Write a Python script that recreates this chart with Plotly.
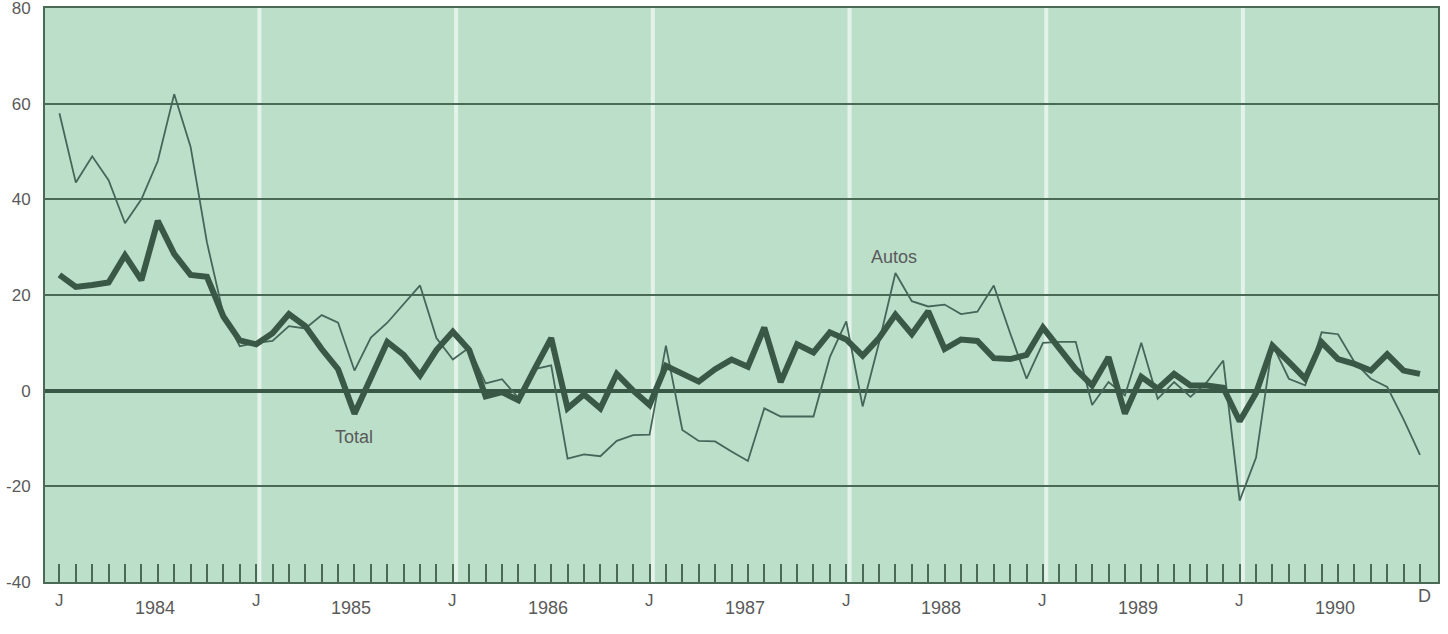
import numpy as np
import pandas as pd
import plotly.graph_objects as go

# Monthly percent change, Jan 1984 - Dec 1990
months = pd.period_range("1984-01", "1990-12", freq="M")

autos = [
    58, 43.5, 49, 44, 35, 40, 48, 62, 51, 31, 16, 9.3,          # 1984
    10, 10.4, 13.5, 13, 15.8, 14.2, 4.2, 11.1, 14.2, 18, 22, 11,  # 1985
    6.5, 9, 1.5, 2.4, -1.5, 4.5, 5.3, -14.2, -13.3, -13.7, -10.5, -9.3,  # 1986
    -9.2, 9.4, -8.2, -10.5, -10.6, -12.7, -14.7, -3.7, -5.4, -5.4, -5.4, 7,  # 1987
    14.5, -3.3, 10, 24.6, 18.7, 17.6, 18, 16, 16.5, 22, 12, 2.5,  # 1988
    10, 10.2, 10.2, -3, 1.8, -1, 10, -1.7, 1.8, -1.3, 1.8, 6.3,  # 1989
    -23, -14, 9.7, 2.5, 1.1, 12.2, 11.8, 6, 2.5, 0.8, -6, -13.4,  # 1990
]

total = [
    24.2, 21.7, 22.1, 22.6, 28.3, 23.1, 35.5, 28.6, 24.2, 23.8, 15.5, 10.5,  # 1984
    9.7, 12, 16, 13.5, 8.7, 4.5, -4.8, 2.7, 10.2, 7.5, 3.2, 8.5,  # 1985
    12.3, 8.5, -1.2, -0.3, -2, 4.6, 11, -3.7, -0.8, -3.7, 3.5, 0,  # 1986
    -3, 5.2, 3.5, 1.9, 4.5, 6.5, 5, 13.2, 1.8, 9.7, 8, 12.2,  # 1987
    10.7, 7.3, 11, 15.9, 11.8, 16.6, 8.7, 10.7, 10.4, 6.8, 6.6, 7.5,  # 1988
    13.2, 8.7, 4.5, 1.1, 7, -4.8, 2.9, 0.4, 3.5, 1.1, 1.1, 0.6,  # 1989
    -6.4, -0.5, 9.4, 6, 2.5, 10.1, 6.6, 5.6, 4.2, 7.6, 4.2, 3.5,  # 1990
]

y_ticks = [80, 60, 40, 20, 0, -20, -40]
years = sorted(set(m.year for m in months))

x = np.arange(len(months))

BG = "#bcdfca"
INK = "#3a5846"
GRID = "#4b6a56"
TEXT = "#5a5a5a"
FONT = "Liberation Sans, Arial, sans-serif"

fig = go.Figure()

fig.add_trace(go.Scatter(
    x=x, y=autos, mode="lines", name="Autos",
    line=dict(color="#46665a", width=1.8),
))
fig.add_trace(go.Scatter(
    x=x, y=total, mode="lines", name="Total",
    line=dict(color=INK, width=6),
))

# light vertical separators at each January after the first year
jan_idx = [i for i, m in enumerate(months) if m.month == 1]
for i in jan_idx[1:]:
    fig.add_shape(
        type="line", xref="x", yref="paper", x0=i + 0.2, x1=i + 0.2, y0=0, y1=1,
        line=dict(color="#e4f3ea", width=4), layer="below",
    )

# month letters under the axis
for i in jan_idx:
    fig.add_annotation(
        x=i, y=0, xref="x", yref="paper", yshift=-30, text="J",
        showarrow=False, font=dict(family=FONT, size=17, color=TEXT),
    )
fig.add_annotation(
    x=len(months) - 1 + 0.3, y=0, xref="x", yref="paper", yshift=-26, text="D",
    showarrow=False, font=dict(family=FONT, size=18, color=TEXT),
)
for k, yr in enumerate(years):
    fig.add_annotation(
        x=12 * k + 5.8, y=0, xref="x", yref="paper", yshift=-38, text=str(yr),
        showarrow=False, font=dict(family=FONT, size=18, color=TEXT),
    )

# series labels
fig.add_annotation(x=50.9, y=28, text="Autos", showarrow=False,
                   font=dict(family=FONT, size=18, color=TEXT))
fig.add_annotation(x=18.0, y=-9.7, text="Total", showarrow=False,
                   font=dict(family=FONT, size=18, color=TEXT))

fig.update_xaxes(
    range=[-0.88, 84.1], automargin=False,
    tickmode="array", tickvals=list(x), showticklabels=False,
    ticks="inside", ticklen=18, tickwidth=2, tickcolor=GRID,
    showgrid=False, zeroline=False,
    showline=True, linecolor=GRID, linewidth=2, mirror=True,
)
fig.update_yaxes(
    range=[-40, 80], automargin=False,
    tickmode="array", tickvals=y_ticks, ticktext=[str(v) for v in y_ticks],
    ticks="", ticklabelstandoff=9, ticklabeloverflow="allow",
    tickfont=dict(family=FONT, size=17, color=TEXT),
    showgrid=True, gridcolor=GRID, gridwidth=2,
    zeroline=True, zerolinecolor=INK, zerolinewidth=4,
    showline=True, linecolor=GRID, linewidth=2, mirror=True,
)

fig.update_layout(
    width=1448, height=634,
    margin=dict(l=45, r=10, t=8, b=52, autoexpand=False),
    paper_bgcolor="white", plot_bgcolor=BG,
    showlegend=False,
)

fig.write_html("out.html")
